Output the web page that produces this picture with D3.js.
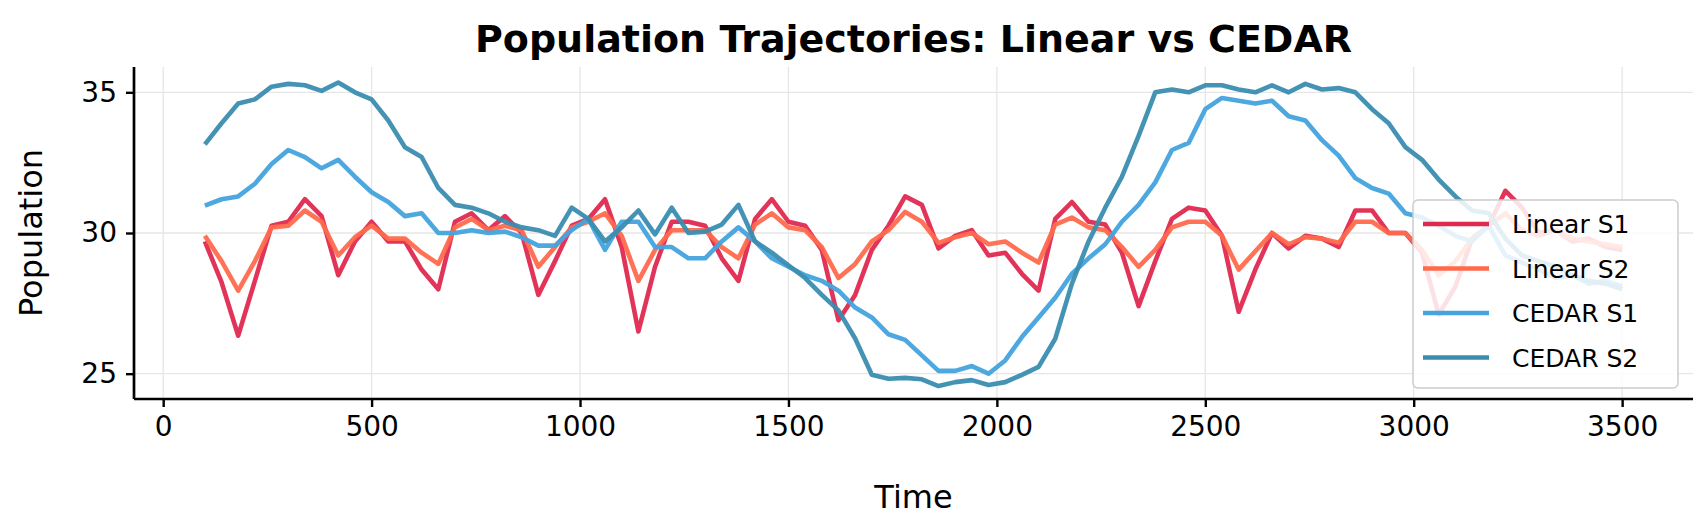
<!DOCTYPE html>
<html>
<head>
<meta charset="utf-8">
<script src="https://cdn.jsdelivr.net/npm/d3@7"></script>
<style>
  body { margin: 0; background: #fff; }
  text { font-family: "DejaVu Sans", sans-serif; }
</style>
</head>
<body>
<div id="chart"></div>
<script>
// time points: 100, 140, ..., 3500
const times = d3.range(100, 3501, 40);

const linearS1 = [29.7, 28.25, 26.35, 28.3, 30.26, 30.4, 31.2, 30.6, 28.5, 29.7,
  30.4, 29.7, 29.7, 28.7, 28.0, 30.4, 30.7, 30.1, 30.6, 30.0,
  27.8, 29.0, 30.26, 30.5, 31.2, 29.5, 26.5, 28.8, 30.4, 30.4,
  30.26, 29.1, 28.3, 30.5, 31.2, 30.4, 30.26, 29.4, 26.9, 27.8,
  29.4, 30.26, 31.3, 31.0, 29.45, 29.9, 30.1, 29.2, 29.3, 28.55,
  27.95, 30.5, 31.1, 30.4, 30.3, 29.3, 27.4, 29.0, 30.5, 30.9,
  30.8, 29.9, 27.2, 28.7, 30.0, 29.45, 29.9, 29.8, 29.5, 30.8,
  30.8, 30.0, 30.0, 29.3, 27.1, 28.1, 29.8, 30.26, 31.5, 30.9,
  30.0, 30.1, 29.7, 29.8, 29.5, 29.4];

const linearS2 = [29.9, 29.0, 27.95, 29.0, 30.2, 30.26, 30.8, 30.4, 29.2, 29.85,
  30.26, 29.8, 29.8, 29.3, 28.9, 30.2, 30.5, 30.1, 30.26, 30.1,
  28.8, 29.5, 30.2, 30.4, 30.7, 29.9, 28.3, 29.4, 30.1, 30.1,
  30.1, 29.5, 29.1, 30.3, 30.7, 30.2, 30.1, 29.5, 28.4, 28.9,
  29.7, 30.1, 30.75, 30.4, 29.65, 29.85, 30.0, 29.6, 29.7, 29.3,
  28.95, 30.3, 30.55, 30.2, 30.1, 29.5, 28.8, 29.4, 30.2, 30.4,
  30.4, 29.9, 28.7, 29.35, 30.0, 29.6, 29.85, 29.8, 29.65, 30.4,
  30.4, 30.0, 30.0, 29.4, 28.5, 29.0, 29.8, 30.26, 30.7, 30.1,
  29.9, 30.1, 29.8, 29.7, 29.6, 29.5];

const cedarS1 = [30.97, 31.2, 31.3, 31.75, 32.45, 32.95, 32.7, 32.3, 32.6, 32.0,
  31.45, 31.1, 30.6, 30.7, 30.0, 30.0, 30.1, 30.0, 30.05, 29.85,
  29.55, 29.55, 30.1, 30.5, 29.4, 30.4, 30.4, 29.5, 29.5, 29.1,
  29.1, 29.7, 30.2, 29.7, 29.1, 28.8, 28.5, 28.3, 27.95, 27.35,
  27.0, 26.4, 26.2, 25.65, 25.1, 25.1, 25.27, 25.0, 25.47, 26.3,
  27.0, 27.7, 28.55, 29.1, 29.6, 30.4, 31.0, 31.8, 32.95, 33.2,
  34.4, 34.8, 34.7, 34.6, 34.7, 34.15, 34.0, 33.3, 32.75, 31.95,
  31.6, 31.4, 30.7, 30.55, 30.26, 29.9, 29.7, 30.26, 29.2, 28.95,
  28.7, 28.4, 28.5, 28.2, 28.3, 28.1];

const cedarS2 = [33.15, 33.9, 34.6, 34.75, 35.2, 35.3, 35.25, 35.05, 35.35, 35.0,
  34.75, 34.0, 33.05, 32.7, 31.6, 31.0, 30.9, 30.7, 30.4, 30.2,
  30.1, 29.9, 30.9, 30.5, 29.7, 30.2, 30.8, 29.95, 30.9, 30.0,
  30.05, 30.3, 31.0, 29.7, 29.3, 28.85, 28.4, 27.8, 27.25, 26.25,
  24.96, 24.82, 24.85, 24.8, 24.56, 24.7, 24.77, 24.6, 24.7, 24.96,
  25.24, 26.24, 28.2, 29.7, 30.9, 32.0, 33.45, 35.0, 35.1, 35.0,
  35.25, 35.25, 35.1, 35.0, 35.25, 35.0, 35.3, 35.1, 35.15, 35.0,
  34.4, 33.9, 33.05, 32.6, 31.9, 31.3, 30.8, 30.7, 29.8, 29.2,
  29.0, 28.8, 28.5, 28.3, 28.2, 28.0];

const seriesNames = ["Linear S1", "Linear S2", "CEDAR S1", "CEDAR S2"];
const seriesValues = [linearS1, linearS2, cedarS1, cedarS2];
const colors = ["#e0294f", "#ff6a4d", "#45a3de", "#3a8db0"];
const xTicks = [0, 500, 1000, 1500, 2000, 2500, 3000, 3500];
const yTicks = [25, 30, 35];

const W = 1707, H = 518;
const margin = { left: 134, right: 14, top: 67, bottom: 119 };

const svg = d3.select("#chart").append("svg")
  .attr("width", W).attr("height", H);

const x = d3.scaleLinear().domain([-70, 3670]).range([margin.left, W - margin.right]);
const y = d3.scaleLinear().domain([24.1, 35.9]).range([H - margin.bottom, margin.top]);

// grid
svg.append("g").selectAll("line").data(xTicks).enter().append("line")
  .attr("x1", d => x(d)).attr("x2", d => x(d))
  .attr("y1", margin.top).attr("y2", H - margin.bottom)
  .attr("stroke", "#e6e6e6").attr("stroke-width", 1.3);
svg.append("g").selectAll("line").data(yTicks).enter().append("line")
  .attr("x1", margin.left).attr("x2", W - margin.right)
  .attr("y1", d => y(d)).attr("y2", d => y(d))
  .attr("stroke", "#e6e6e6").attr("stroke-width", 1.3);

// lines
const line = d3.line().x((d, i) => x(times[i])).y(d => y(d));
seriesValues.forEach((vals, i) => {
  svg.append("path")
    .datum(vals)
    .attr("fill", "none")
    .attr("stroke", colors[i])
    .attr("stroke-width", 4.6)
    .attr("stroke-opacity", 0.95)
    .attr("stroke-linejoin", "round")
    .attr("d", line);
});

// axes
const xAxis = svg.append("g")
  .attr("transform", `translate(0,${H - margin.bottom})`)
  .call(d3.axisBottom(x).tickValues(xTicks).tickSize(8).tickPadding(9).tickFormat(d3.format("d")));
const yAxis = svg.append("g")
  .attr("transform", `translate(${margin.left},0)`)
  .call(d3.axisLeft(y).tickValues(yTicks).tickSize(8).tickPadding(9));
[xAxis, yAxis].forEach(a => {
  a.select(".domain").attr("stroke-width", 2.7).attr("stroke", "#000");
  a.selectAll(".tick line").attr("stroke-width", 2.4).attr("stroke", "#000");
  a.selectAll(".tick text").style("font-size", "28px").attr("fill", "#000");
});
xAxis.select(".domain").attr("d", `M${margin.left},0H${W - margin.right}`);
yAxis.select(".domain").attr("d", `M0,${margin.top}V${H - margin.bottom}`);

// labels
svg.append("text").attr("x", (margin.left + W - margin.right) / 2).attr("y", 52)
  .attr("text-anchor", "middle").style("font-size", "38px").style("font-weight", "bold")
  .text("Population Trajectories: Linear vs CEDAR");
svg.append("text").attr("x", (margin.left + W - margin.right) / 2).attr("y", 508)
  .attr("text-anchor", "middle").style("font-size", "32px").text("Time");
svg.append("text").attr("transform", `translate(42,${(margin.top + H - margin.bottom) / 2}) rotate(-90)`)
  .attr("text-anchor", "middle").style("font-size", "32px").text("Population");

// legend
const lg = svg.append("g").attr("transform", "translate(1413,200)");
lg.append("rect").attr("width", 265).attr("height", 188).attr("rx", 5)
  .attr("fill", "#fff").attr("fill-opacity", 0.85).attr("stroke", "#cccccc").attr("stroke-width", 1.5);
seriesNames.forEach((name, i) => {
  const yy = 24 + i * 44.5;
  lg.append("line").attr("x1", 10).attr("x2", 76).attr("y1", yy).attr("y2", yy)
    .attr("stroke", colors[i]).attr("stroke-width", 4.6);
  lg.append("text").attr("x", 99).attr("y", yy + 9).style("font-size", "25px").text(name);
});
</script>
</body>
</html>
